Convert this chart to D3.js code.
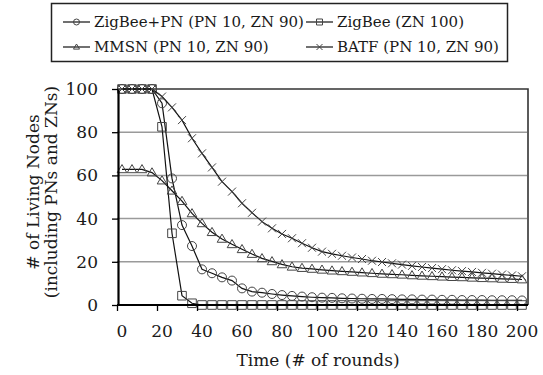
<!DOCTYPE html>
<html><head><meta charset="utf-8">
<script src="https://cdn.jsdelivr.net/npm/d3@7"></script>
<style>
html,body{margin:0;padding:0;background:#fff;}
svg{display:block;font-family:"DejaVu Serif",serif;}
</style></head>
<body><svg id="c" width="543" height="375"></svg>
<script>
const rounds = [0,5,10,15,20,25,30,35,40,45,50,55,60,65,70,75,80,85,90,95,100,105,110,115,120,125,130,135,140,145,150,155,160,165,170,175,180,185,190,195,200];
const zigbeePN = [100,100,100,100,93.4,58.6,37,27.3,16.5,14.7,12.8,11.3,7.7,6.2,5.7,5.1,4.6,4.2,3.9,3.6,3.4,3.3,3.1,3.0,2.9,2.8,2.8,2.7,2.6,2.6,2.5,2.5,2.4,2.4,2.3,2.3,2.3,2.2,2.2,2.2,2.1];
const zigbee = [100,100,100,100,82.5,33.2,4.3,0.8,0,0,0,0,0,0,0,0,0,0,0,0,0,0,0,0,0,0,0,0,0,0,0,0,0,0,0,0,0,0,0,0,0];
const mmsn = [62.8,62.8,62.8,61.3,57.6,52.9,48.1,42.4,37.8,33.7,30.6,28.1,25.8,23.6,21.6,20.2,18.8,17.7,17.1,16.7,16.3,15.9,15.6,15.3,15.0,14.7,14.4,14.2,14.0,13.7,13.5,13.3,13.1,12.9,12.8,12.6,12.4,12.3,12.1,12.0,11.8];
const batf = [100,100,100,100,96.5,91.5,85.6,77.2,70.2,63.7,57.1,52.5,47.1,42.7,38.6,35.5,32.9,30.9,28.6,26.5,24.7,23.7,22.8,22.0,21.3,20.5,19.9,19.3,18.7,18.1,17.6,17.1,16.6,16.1,15.7,15.3,14.9,14.5,14.1,13.7,13.3];
const xTickLabels = [0,20,40,60,80,100,120,140,160,180,200];
const yTicks = [0,20,40,60,80,100];
const seriesNames = ["ZigBee+PN (PN 10, ZN 90)","ZigBee (ZN 100)","MMSN (PN 10, ZN 90)","BATF (PN 10, ZN 90)"];

const svg = d3.select("#c");
const L = 117, R = 527, T = 89, B = 305;
const x = d3.scaleBand().domain(rounds).range([L, R]).padding(0);
const y = d3.scaleLinear().domain([0,100]).range([B, T]);
const cx = v => x(v) + x.bandwidth()/2;

// markers
const markers = {
  circle: s => `M${s},0A${s},${s} 0 1,1 ${-s},0A${s},${s} 0 1,1 ${s},0Z`,
  square: s => `M${-s},${-s}H${s}V${s}H${-s}Z`,
  triangle: s => `M0,${-s}L${s},${s*0.7}H${-s}Z`,
  cross: s => `M${-s},${-s}L${s},${s}M${-s},${s}L${s},${-s}`
};

// gridlines
svg.append("g").selectAll("line").data([20,40,60,80]).join("line")
  .attr("x1", L).attr("x2", R).attr("y1", d=>y(d)).attr("y2", d=>y(d))
  .attr("stroke", "#9a9a9a").attr("stroke-width", 1.5);
// top & right border
svg.append("path").attr("d", `M${L},${y(100)}H${R+1}V${B}`)
  .attr("fill","none").attr("stroke","#333").attr("stroke-width",1.6);

// series
const series = [
  {name: seriesNames[0], vals: zigbeePN, m: "circle"},
  {name: seriesNames[1], vals: zigbee, m: "square"},
  {name: seriesNames[2], vals: mmsn, m: "triangle"},
  {name: seriesNames[3], vals: batf, m: "cross"}
];
const line = d3.line().x((d,i)=>cx(rounds[i])).y(d=>y(d));
const msize = {circle:4.5, square:4.3, triangle:4.8, cross:4};
series.forEach(s => {
  svg.append("path").attr("d", line(s.vals)).attr("fill","none")
    .attr("stroke","#111").attr("stroke-width",1.2);
  svg.append("g").selectAll("path").data(s.vals).join("path")
    .attr("transform",(d,i)=>`translate(${cx(rounds[i])},${y(d)})`)
    .attr("d", markers[s.m](msize[s.m]))
    .attr("fill","none").attr("stroke","#444").attr("stroke-width",1);
});

// y axis
const yAxis = d3.axisLeft(y).tickValues(yTicks).tickSize(6).tickSizeOuter(0).tickPadding(14);
const gy = svg.append("g").attr("transform",`translate(${L+1},0)`).call(yAxis);
gy.select(".domain").attr("stroke","#000").attr("stroke-width",2.2);
gy.selectAll(".tick line").attr("stroke","#000").attr("stroke-width",1.3);
gy.selectAll("text").attr("font-family","DejaVu Serif").attr("font-size",17).attr("fill","#1a1a1a");

// x axis
const xAxis = d3.axisBottom(x).tickValues(xTickLabels).tickSize(6).tickSizeOuter(0).tickPadding(14);
const gx = svg.append("g").attr("transform",`translate(0,${B})`).call(xAxis);
gx.select(".domain").attr("d", `M${L},0H${R+1}`).attr("stroke","#000").attr("stroke-width",2.2);
gx.selectAll(".tick line").attr("x1", -x.bandwidth()/2 + 0.5).attr("x2", -x.bandwidth()/2 + 0.5)
  .attr("stroke","#000").attr("stroke-width",1.3);
gx.selectAll("text").attr("font-family","DejaVu Serif").attr("font-size",17).attr("fill","#1a1a1a");

// axis titles
svg.append("text").attr("x", 318).attr("y", 366).attr("text-anchor","middle")
  .attr("font-size",17).attr("fill","#1a1a1a").text("Time (# of rounds)");
const yt = svg.append("text").attr("transform","translate(0,192) rotate(-90)")
  .attr("text-anchor","middle").attr("font-size",17).attr("fill","#1a1a1a");
yt.append("tspan").attr("x",0).attr("y",39).text("# of Living Nodes");
yt.append("tspan").attr("x",0).attr("y",57).text("(including PNs and ZNs)");

// legend
const lg = svg.append("g");
lg.append("rect").attr("x",51.5).attr("y",3.5).attr("width",456).attr("height",58)
  .attr("fill","#fff").attr("stroke","#222").attr("stroke-width",1.5);
const legPos = [[63,22],[306,22],[63,47],[306,47]];
series.forEach((s,i) => {
  const [lx, ly] = legPos[i];
  const g = lg.append("g").attr("transform",`translate(${lx},${ly})`);
  g.append("line").attr("x1",0).attr("x2",27).attr("stroke","#111").attr("stroke-width",1.2);
  g.append("path").attr("transform","translate(13.5,0)").attr("d", markers[s.m](3))
    .attr("fill","none").attr("stroke","#444").attr("stroke-width",1);
  g.append("text").attr("x",31).attr("dy","0.36em").attr("font-size",15)
    .attr("fill","#1a1a1a").text(s.name);
});
</script></body></html>
